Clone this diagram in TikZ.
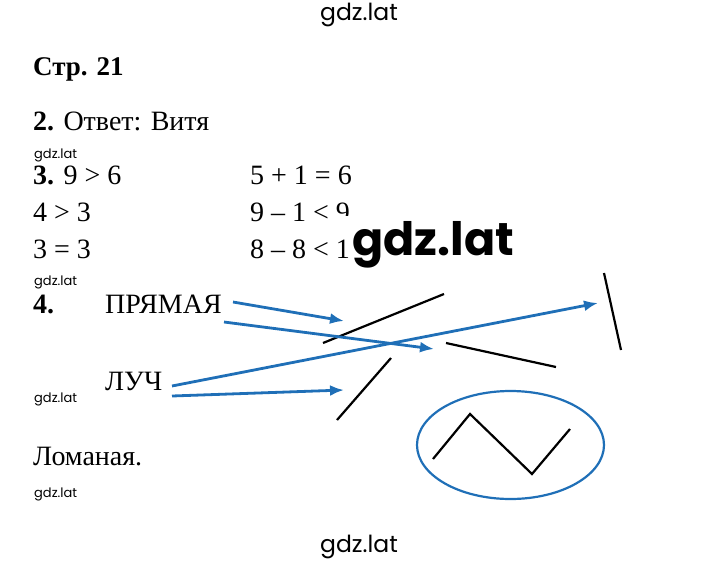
\documentclass[tikz,border=0pt]{standalone}
\usepackage{fontspec}
\setmainfont{Liberation Serif}
\newfontfamily\wmfont{Poppins}
\usetikzlibrary{arrows.meta,shapes.geometric}
\definecolor{arrowblue}{RGB}{31,111,183}
\tikzset{
  txt/.style={inner sep=0pt, anchor=base west, font=\fontsize{28}{30}\selectfont},
  wmsmall/.style={inner sep=0pt, anchor=base west, font=\wmfont\fontsize{13}{15}\selectfont},
  wmmid/.style={inner sep=0pt, anchor=base, font=\wmfont\fontsize{23.5}{26}\selectfont},
  wmbig/.style={inner sep=0pt, anchor=base west, font=\wmfont\bfseries\fontsize{46}{50}\selectfont},
  blk/.style={line width=2.2pt, black},
  link/.style={line width=2.8pt, arrowblue, -{Latex[length=14pt,width=11pt]}},
}
\begin{document}
\begin{tikzpicture}[x=1pt,y=-1pt]
\useasboundingbox (0,0) rectangle (720,563);
% watermarks
\node[wmmid] (wtop) at (359,20) {gdz.lat};
\node[wmmid] (wbot) at (359,552) {gdz.lat};
\node[wmsmall] (w1) at (34,158) {gdz.lat};
\node[wmsmall] (w2) at (34,285) {gdz.lat};
\node[wmsmall] (w3) at (34,402) {gdz.lat};
\node[wmsmall] (w4) at (34,497) {gdz.lat};
% text
\node[txt, font=\bfseries\fontsize{27}{30}\selectfont] (title) at (33,75) {Стр. 21};
\node[txt] (t2) at (33,130) {\textbf{2.} Ответ: Витя};
\node[txt] (t3a) at (33,184) {\textbf{3.} 9 > 6};
\node[txt] (t3b) at (33,221) {4 > 3};
\node[txt] (t3c) at (33,258) {3 = 3};
\node[txt] (t3d) at (250,184) {5 + 1 = 6};
\node[txt] (t3e) at (250,221) {9 – 1 < 9};
\fill[white] (331,215.5) rectangle (356,224);
\node[txt] (t3f) at (250,258) {8 – 8 < 1};
\node[wmbig] (wbig) at (352,255) {gdz.lat};
\node[txt] (t4) at (33,313) {\textbf{4.}};
\node[txt] (pr) at (105,313) {ПРЯМАЯ};
\node[txt] (lu) at (105,390) {ЛУЧ};
\node[txt] (lom) at (33,465) {Ломаная.};
% figures
\coordinate (s1a) at (323,343); \coordinate (s1b) at (444,294);
\coordinate (s2a) at (446,343); \coordinate (s2b) at (556,367);
\coordinate (s3a) at (604,273); \coordinate (s3b) at (621,350);
\coordinate (s4a) at (391,358); \coordinate (s4b) at (337,420);
\draw[blk] (s1a) -- (s1b);
\draw[blk] (s2a) -- (s2b);
\draw[blk] (s3a) -- (s3b);
\draw[blk] (s4a) -- (s4b);
\node[draw=arrowblue, line width=2.2pt, ellipse, minimum width=187pt, minimum height=108pt, inner sep=0pt] (ell) at (510.5,445) {};
\coordinate (p1) at (433,459); \coordinate (p2) at (470,414);
\coordinate (p3) at (532,474); \coordinate (p4) at (570,429);
\draw[blk, line join=miter] (p1) -- (p2) -- (p3) -- (p4);
% arrows
\coordinate (a1s) at (233,302); \coordinate (a1e) at (344,321);
\coordinate (a2s) at (224,322); \coordinate (a2e) at (434,349);
\coordinate (a3s) at (172,386); \coordinate (a3e) at (598,303);
\coordinate (a4s) at (172,396); \coordinate (a4e) at (344,390);
\draw[link] (a1s) -- (a1e);
\draw[link] (a2s) -- (a2e);
\draw[link] (a3s) -- (a3e);
\draw[link] (a4s) -- (a4e);
\end{tikzpicture}
\end{document}
